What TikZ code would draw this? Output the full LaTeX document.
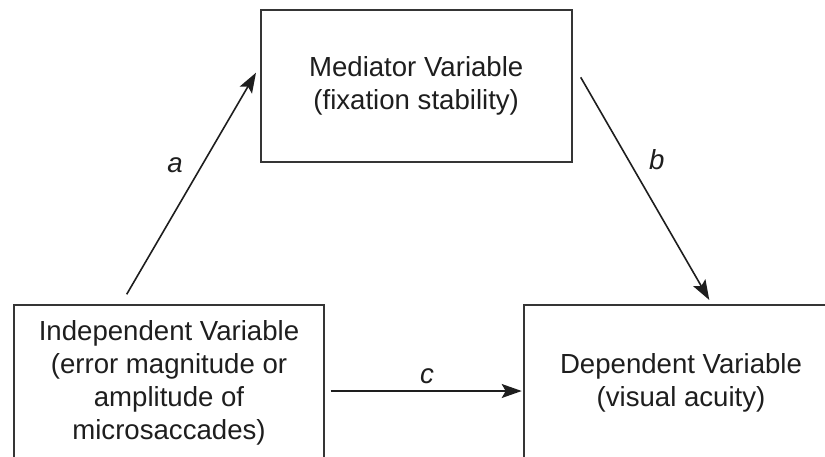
\documentclass[tikz,border=0pt]{standalone}
\usepackage{fontspec}
\setmainfont{Liberation Sans}
\usetikzlibrary{arrows.meta}
\definecolor{ink}{HTML}{1E1E1E}
\tikzset{
  varbox/.style={draw=ink!90, line width=1.6pt, align=center, inner sep=0pt,
    font=\fontsize{27.6}{33}\selectfont, text=ink},
  conn/.style={draw=ink, line width=1.6pt, -{Stealth[length=20pt,width=14pt,inset=4pt]}},
  lbl/.style={font=\fontsize{27.6}{33}\selectfont\itshape, text=ink}
}
\begin{document}
\begin{tikzpicture}[x=1pt,y=-1pt]
\useasboundingbox (0,0) rectangle (825,456);
\clip (0,0) rectangle (825,456);
\node[varbox, minimum width=311pt, minimum height=151.7pt] (med) at (416.2,85.85) {Mediator Variable\\(fixation stability)};
\node[varbox, minimum width=310pt, minimum height=156pt] (iv) at (169,383) {Independent Variable\\(error magnitude or\\amplitude of\\microsaccades)};
\node[varbox, minimum width=314pt, minimum height=156pt] (dv) at (681,383) {Dependent Variable\\(visual acuity)};
\coordinate (a0) at (126.7,294.3);
\coordinate (a1) at (256,72.7);
\coordinate (b0) at (580.7,77.3);
\coordinate (b1) at (709.3,300);
\coordinate (c0) at (330.7,391);
\coordinate (c1) at (521.7,391);
\draw[conn] (a0) -- (a1);
\draw[conn] (b0) -- (b1);
\draw[conn] (c0) -- (c1);
\node[lbl] (la) at (175,165) {a};
\node[lbl] (lb) at (656.7,160) {b};
\node[lbl] (lc) at (427,376) {c};
\end{tikzpicture}
\end{document}
